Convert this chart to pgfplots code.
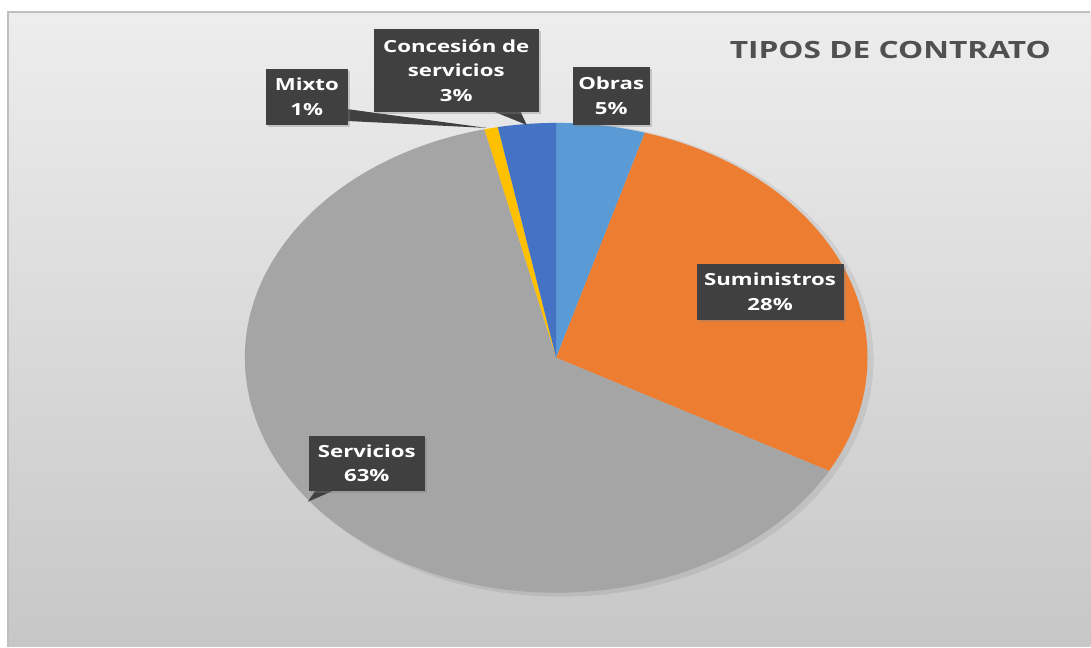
\documentclass[border=0pt]{standalone}
\usepackage{pgfplots}
\pgfplotsset{compat=1.18}
\usepackage{pgfplotstable}
\usepackage{fontspec}
\usetikzlibrary{shadows}
\newfontfamily\lblfont[FakeStretch=1.33]{Open Sans}

\definecolor{slice0}{HTML}{5B9BD5}
\definecolor{slice1}{HTML}{ED7D31}
\definecolor{slice2}{HTML}{A5A5A5}
\definecolor{slice3}{HTML}{FFC000}
\definecolor{slice4}{HTML}{4472C4}
\definecolor{boxc}{HTML}{404040}
\definecolor{titlec}{HTML}{505050}

\tikzset{lbl/.style={fill=boxc, text=white, align=center, inner sep=0pt,
    font=\lblfont\bfseries\fontsize{16.7}{24.5}\selectfont,
    drop shadow={opacity=0.35, shadow xshift=2pt, shadow yshift=-2pt}}}

% share of each contract type, clockwise from 12 o'clock
\pgfplotstableread{
name value
Obras 4.6
Suministros 28.4
Servicios 63.3
Mixto 0.7
Concesion 3.0
}\pietable

\begin{document}
\begin{tikzpicture}
\begin{axis}[
    x=1pt, y=1pt,
    xmin=0, xmax=1091, ymin=0, ymax=647,
    scale only axis, hide axis, clip=false,
]
% page and chart area
\fill[white] (0,0) rectangle (1091,647);
\shade[top color=black!7, bottom color=black!22] (8,0) rectangle (1091,635);
\draw[black!25, line width=1.2pt] (8,0) -- (8,635) -- (1091,635);

% soft shadow under the pie
\fill[black, opacity=0.07] (561,287) ellipse[x radius=313, y radius=237];

% slices
\pgfmathsetmacro\angA{90}
\pgfplotsforeachungrouped \i in {0,...,4}{%
    \pgfplotstablegetelem{\i}{value}\of\pietable
    \pgfmathsetmacro\angB{\angA-3.6*\pgfplotsretval}%
    \pgfmathsetmacro\px{556.5+311.5*cos(\angA)}%
    \pgfmathsetmacro\py{289+235*sin(\angA)}%
    \edef\slice{\noexpand\fill[slice\i] (556.5,289) -- (\px,\py)
        arc[start angle=\angA, end angle=\angB, x radius=311.5, y radius=235] -- cycle;}%
    \slice
    \let\angA\angB
}

% callout pointers
\fill[boxc] (346,538) -- (346,526) -- (487,519) -- cycle;
\fill[boxc] (490,537) -- (520,537) -- (527,522) -- cycle;
\fill[boxc] (317,158) -- (338,158) -- (308,145) -- cycle;

% data labels
\node[lbl, minimum width=82pt, minimum height=56pt] at (307,550) {Mixto\\1\%};
\node[lbl, minimum width=165pt, minimum height=83pt] at (456.5,576.5) {Concesión de\\servicios\\3\%};
\node[lbl, minimum width=77pt, minimum height=58pt] at (611.5,551) {Obras\\5\%};
\node[lbl, minimum width=147pt, minimum height=56pt] at (770.5,355) {Suministros\\28\%};
\node[lbl, minimum width=116pt, minimum height=55pt] at (367,183.5) {Servicios\\63\%};

% title
\node[anchor=base west, inner sep=0pt, text=titlec,
      font=\lblfont\bfseries\fontsize{23.8}{28}\selectfont] at (730,588) {TIPOS DE CONTRATO};
\end{axis}
\end{tikzpicture}
\end{document}
